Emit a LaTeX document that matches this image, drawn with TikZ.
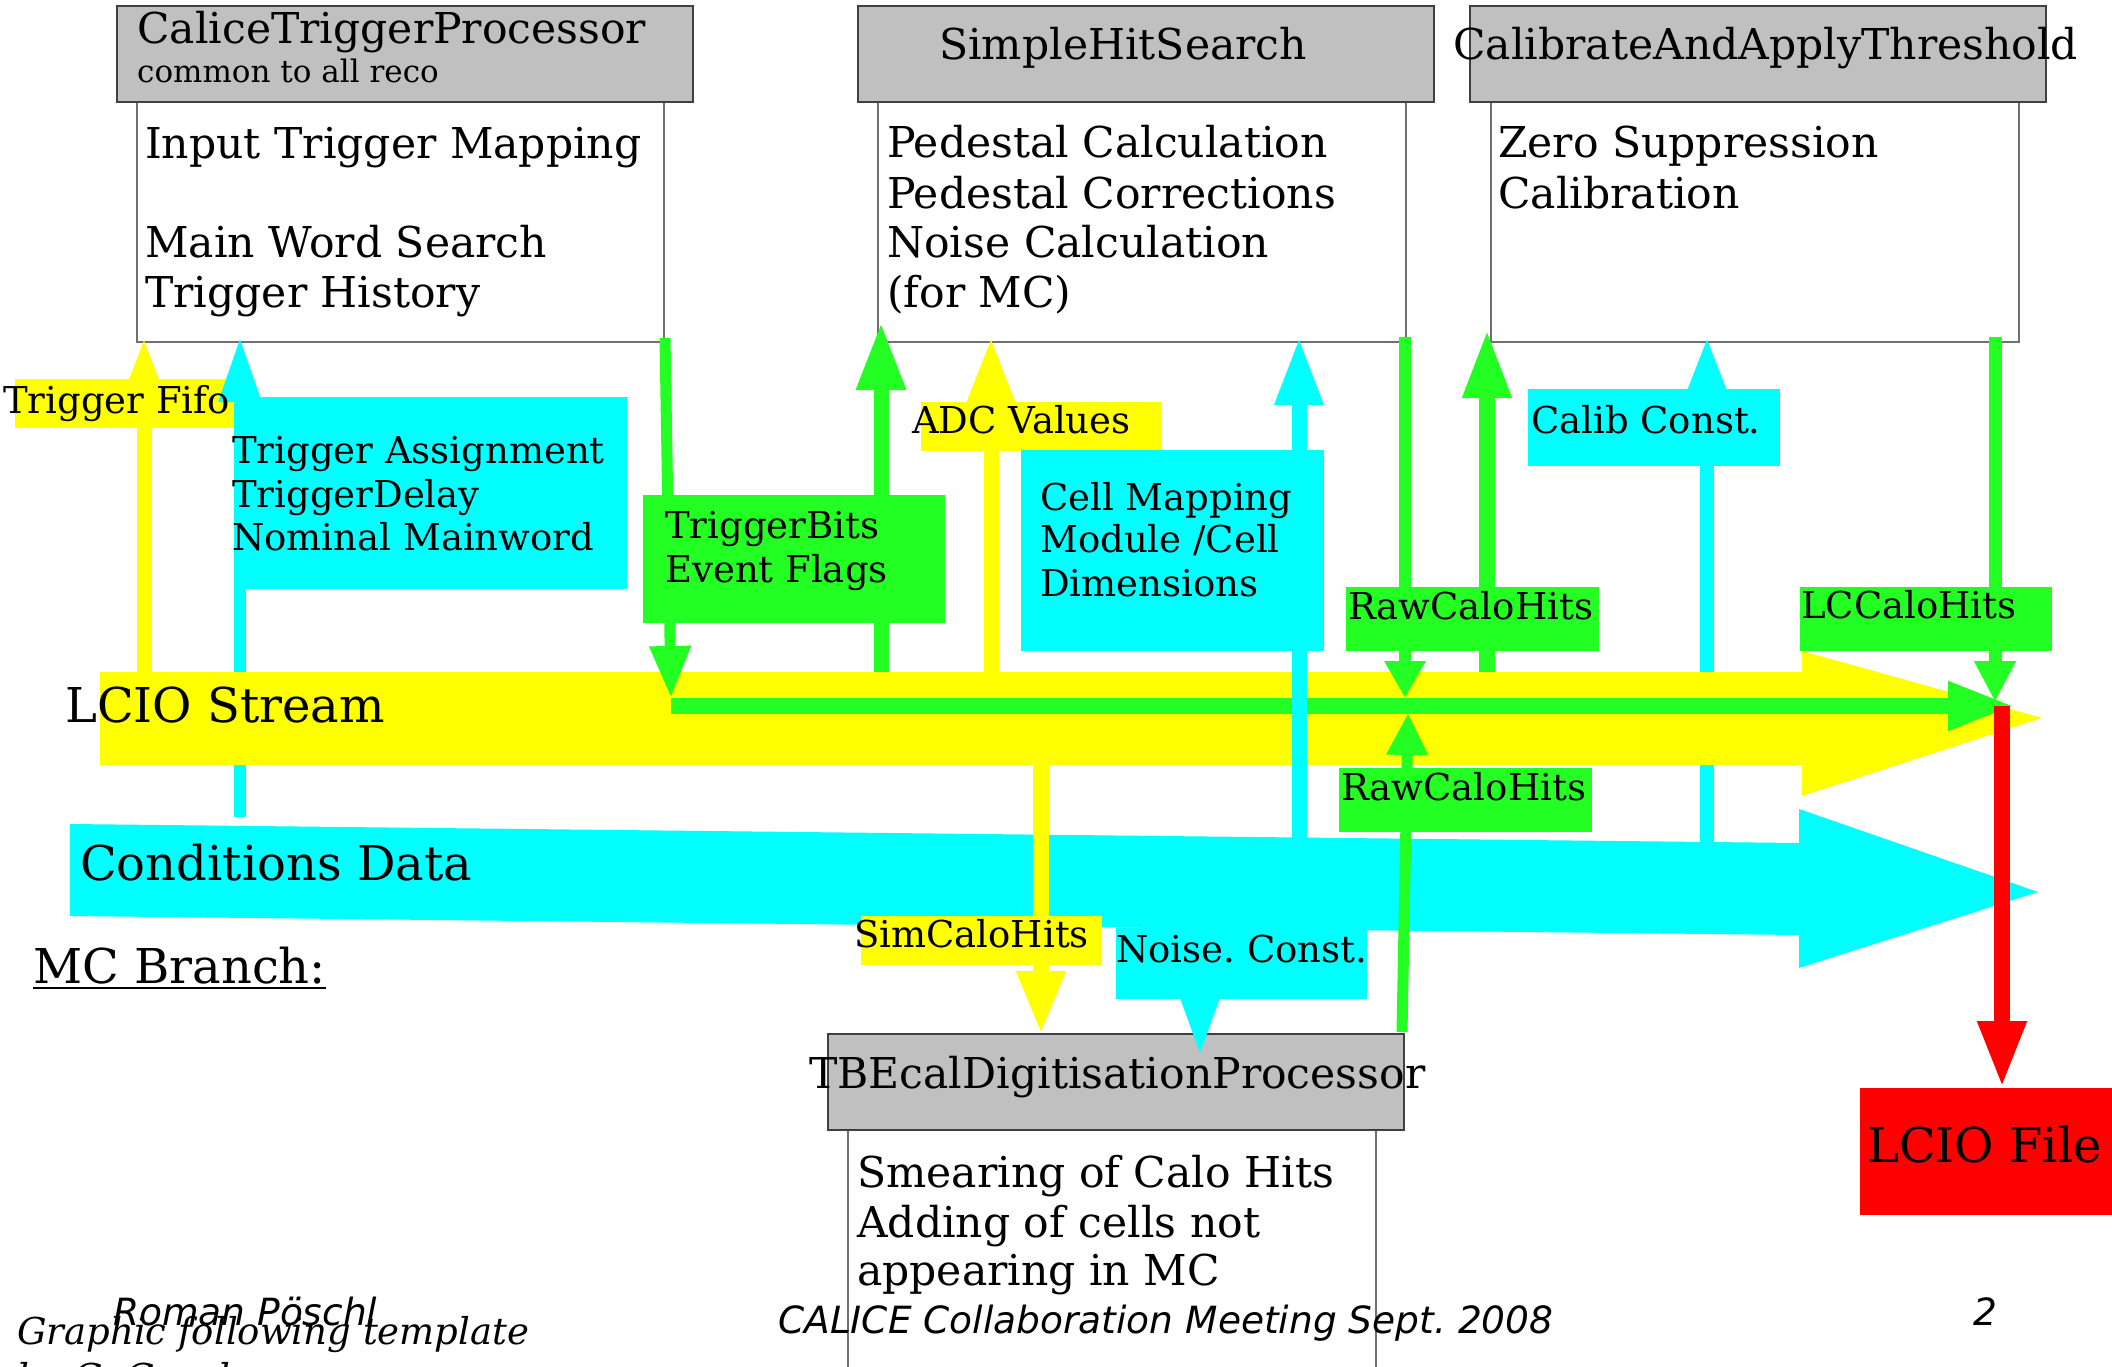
\documentclass[tikz,border=0pt]{standalone}
\usepackage{fontspec}
\setmainfont{DejaVu Serif}
\newfontfamily\footsans{DejaVu Sans}
\usetikzlibrary{arrows.meta}
\frenchspacing
\definecolor{cy}{RGB}{0,255,255}
\definecolor{ye}{RGB}{255,255,0}
\definecolor{gr}{RGB}{35,255,35}
\definecolor{rd}{RGB}{255,0,0}
\definecolor{hdrfill}{RGB}{192,192,192}
\definecolor{hdrline}{RGB}{64,64,64}
\definecolor{bodyline}{RGB}{112,112,112}
\tikzset{
  hdrbox/.style={fill=hdrfill, draw=hdrline, line width=1.5pt, anchor=north west, inner sep=0pt, outer sep=0pt},
  bodybox/.style={fill=white, draw=bodyline, line width=1.5pt, anchor=north west, inner sep=0pt, outer sep=0pt},
  labbox/.style={anchor=north west, inner sep=0pt, outer sep=0pt, draw=none},
  tmain/.style={anchor=base west, inner sep=0pt, font=\fontsize{42.5}{50}\selectfont},
  tlab/.style={anchor=base west, inner sep=0pt, font=\fontsize{37}{44}\selectfont},
  tbig/.style={anchor=base west, inner sep=0pt, font=\fontsize{48}{56}\selectfont},
  tsmall/.style={anchor=base west, inner sep=0pt, font=\fontsize{31}{36}\selectfont},
  tfootsans/.style={anchor=base west, inner sep=0pt, font=\footsans\itshape\fontsize{37.5}{44}\selectfont},
  tfootserif/.style={anchor=base west, inner sep=0pt, font=\itshape\fontsize{37}{46}\selectfont},
  arr/.style n args={4}{draw=#1, line width=#2pt, -{Triangle[length=#3pt, width=#4pt]}},
}
\begin{document}
\begin{tikzpicture}[x=1pt,y=-1pt]
\useasboundingbox (0,0) rectangle (2112,1367);
\clip (0,0) rectangle (2112,1367);
\fill[white] (0,0) rectangle (2112,1367);

% ---------- processor boxes ----------
\node[bodybox, minimum width=527pt, minimum height=240pt] (ctpB) at (137,102) {};
\node[hdrbox, minimum width=576pt, minimum height=96pt] (ctpH) at (117,6) {};
\node[bodybox, minimum width=528pt, minimum height=240pt] (shsB) at (878,102) {};
\node[hdrbox, minimum width=576pt, minimum height=96pt] (shsH) at (858,6) {};
\node[bodybox, minimum width=528pt, minimum height=240pt] (caaB) at (1491,102) {};
\node[hdrbox, minimum width=576pt, minimum height=96pt] (caaH) at (1470,6) {};
\node[bodybox, minimum width=528pt, minimum height=300pt] (tbeB) at (848,1130) {};
\node[hdrbox, minimum width=576pt, minimum height=96pt] (tbeH) at (828,1034) {};

\node[tmain] (ctpT) at (137,44) {CaliceTriggerProcessor};
\node[tsmall] (ctpS) at (137,83) {common to all reco};
\node[tmain] (ctp1) at (145,159) {Input Trigger Mapping};
\node[tmain] (ctp2) at (145,258) {Main Word Search};
\node[tmain] (ctp3) at (145,307) {Trigger History};
\node[tmain] (shsT) at (939,60) {SimpleHitSearch};
\node[tmain] (shs1) at (887,158) {Pedestal Calculation};
\node[tmain] (shs2) at (887,208) {Pedestal Corrections};
\node[tmain] (shs3) at (887,258) {Noise Calculation};
\node[tmain] (shs4) at (887,307) {(for MC)};
\node[tmain] (caaT) at (1453,60) {CalibrateAndApplyThreshold};
\node[tmain] (caa1) at (1498,158) {Zero Suppression};
\node[tmain] (caa2) at (1498,208) {Calibration};
\node[tmain] (tbeT) at (809,1088) {TBEcalDigitisationProcessor};
\node[tmain] (tbe1) at (857,1187) {Smearing of Calo Hits};
\node[tmain] (tbe2) at (857,1237) {Adding of cells not};
\node[tmain] (tbe3) at (857,1285) {appearing in MC};

% ---------- conditions data stream ----------
\fill[cy] (70,824) -- (1799,843) -- (1799,809) -- (2038,892) -- (1799,968) -- (1799,935) -- (70,916) -- cycle;

% yellow label under the cyan arrow head
\node[labbox, fill=ye, minimum width=241pt, minimum height=49pt] (tfR) at (15,379) {};

% cyan arrows below the LCIO stream
\coordinate (a2s) at (240,817);  \coordinate (a2e) at (240,337);
\draw[arr={cy}{12}{65}{40}] (a2s) -- (a2e);
\coordinate (a10s) at (1707,842); \coordinate (a10e) at (1707,337);
\draw[arr={cy}{14}{66}{45}] (a10s) -- (a10e);

% ---------- LCIO stream ----------
\fill[ye] (100,672) -- (1802,672) -- (1802,651) -- (2042,718) -- (1802,796) -- (1802,765) -- (100,765) -- cycle;

% yellow arrows
\coordinate (a1s) at (144,672);  \coordinate (a1e) at (144,337);
\draw[arr={ye}{15}{65}{42}] (a1s) -- (a1e);
\coordinate (a5s) at (991,672);  \coordinate (a5e) at (991,337);
\draw[arr={ye}{15}{68}{46}] (a5s) -- (a5e);
\coordinate (a13s) at (1041,765); \coordinate (a13e) at (1041,1035);
\draw[arr={ye}{16}{64}{45}] (a13s) -- (a13e);

% green arrows
\coordinate (a3s) at (665,338);  \coordinate (a3e) at (671,698);
\draw[arr={gr}{11}{52}{39}] (a3s) -- (a3e);
\coordinate (a4s) at (881,672);  \coordinate (a4e) at (881,322);
\draw[arr={gr}{15}{68}{46}] (a4s) -- (a4e);
\coordinate (a7s) at (1405,337); \coordinate (a7e) at (1405,698);
\draw[arr={gr}{12}{37}{39}] (a7s) -- (a7e);
\coordinate (a8s) at (1402,1032); \coordinate (a8e) at (1408,713);
\draw[arr={gr}{11}{42}{39}] (a8s) -- (a8e);
\coordinate (a9s) at (1487,672); \coordinate (a9e) at (1487,329);
\draw[arr={gr}{16}{69}{45}] (a9s) -- (a9e);
\coordinate (a11s) at (1995,337); \coordinate (a11e) at (1995,702);
\draw[arr={gr}{13}{41}{39}] (a11s) -- (a11e);
\coordinate (ahs) at (671,706); \coordinate (ahe) at (2015,706);
\draw[arr={gr}{16}{67}{45}] (ahs) -- (ahe);

% cyan arrow over the stream
\coordinate (a6s) at (1299,838); \coordinate (a6e) at (1299,337);
\draw[arr={cy}{15}{68}{45}] (a6s) -- (a6e);

% red arrow to the file
\node[labbox, fill=rd, minimum width=260pt, minimum height=127pt] (fileR) at (1860,1088) {};
\coordinate (a12s) at (2002,706);
\draw[arr={rd}{16}{67}{45}] (a12s) -- (fileR.north -| a12s);

% ---------- label boxes ----------
\node[labbox, fill=cy, minimum width=391pt, minimum height=192pt] (taR) at (236,397) {};
\node[labbox, fill=gr, minimum width=302pt, minimum height=128pt] (tbR) at (643,495) {};
\node[labbox, fill=ye, minimum width=241pt, minimum height=49pt] (adcR) at (921,402) {};
\node[labbox, fill=cy, minimum width=303pt, minimum height=201pt] (cmR) at (1021,450) {};
\node[labbox, fill=gr, minimum width=253pt, minimum height=64pt] (rch1R) at (1346,587) {};
\node[labbox, fill=cy, minimum width=252pt, minimum height=77pt] (ccR) at (1528,389) {};
\node[labbox, fill=gr, minimum width=252pt, minimum height=64pt] (lccR) at (1800,587) {};
\node[labbox, fill=gr, minimum width=253pt, minimum height=64pt] (rch2R) at (1339,768) {};
\node[labbox, fill=ye, minimum width=241pt, minimum height=49pt] (simR) at (861,916) {};
\node[labbox, fill=cy, minimum width=251pt, minimum height=71pt] (noiR) at (1116,928) {};
\coordinate (a14s) at (1200,999); \coordinate (a14e) at (1200,1053);
\draw[arr={cy}{1}{54}{39}] (a14s) -- (a14e);

% ---------- label texts ----------
\node[tlab] (tfT) at (3,413) {Trigger Fifo};
\node[tlab] (ta1) at (232,463) {Trigger Assignment};
\node[tlab] (ta2) at (232,507) {TriggerDelay};
\node[tlab] (ta3) at (232,550) {Nominal Mainword};
\node[tlab] (tb1) at (665,538) {TriggerBits};
\node[tlab] (tb2) at (665,582) {Event Flags};
\node[tlab] (adcT) at (912,433) {ADC Values};
\node[tlab] (cm1) at (1040,510) {Cell Mapping};
\node[tlab] (cm2) at (1040,552) {Module /Cell};
\node[tlab] (cm3) at (1040,596) {Dimensions};
\node[tlab] (rch1T) at (1348,619) {RawCaloHits};
\node[tlab] (ccT) at (1531,433) {Calib Const.};
\node[tlab] (lccT) at (1801,618) {LCCaloHits};
\node[tlab] (rch2T) at (1341,800) {RawCaloHits};
\node[tlab] (simT) at (854,947) {SimCaloHits};
\node[tlab] (noiT) at (1116,962) {Noise. Const.};

% ---------- stream texts ----------
\node[tbig] (lcioT) at (65,722) {LCIO Stream};
\node[tbig] (condT) at (80,880) {Conditions Data};
\node[tbig] (mcbT) at (33,983) {MC Branch:};
\draw[line width=2.5pt] ([yshift=-5pt]mcbT.base west) -- ([yshift=-5pt]mcbT.base east);
\node[tbig] (fileT) at (1867,1162) {LCIO File};

% ---------- footer ----------
\node[tfootsans] (authT) at (113,1325) {Roman Pöschl};
\node[tfootserif] (gr1T) at (17,1344) {Graphic following template};
\node[tfootserif] (gr2T) at (17,1390) {by G. Gaycken};
\node[tfootsans] (meetT) at (778,1333) {CALICE Collaboration Meeting Sept. 2008};
\node[tfootsans] (pageT) at (1973,1325) {2};
\end{tikzpicture}
\end{document}
